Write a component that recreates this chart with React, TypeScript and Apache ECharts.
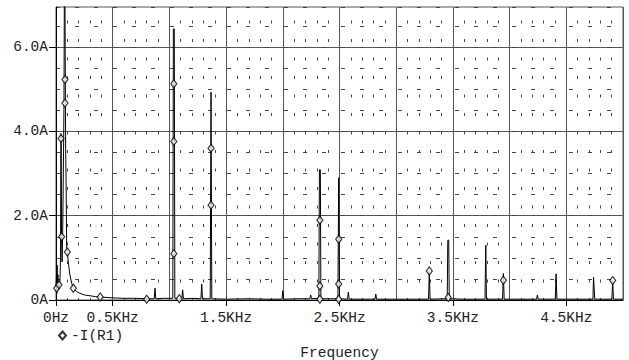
import React, { useEffect, useRef } from "react";
import * as echarts from "echarts";

// Spectrum trace: frequency (KHz) and current magnitude (A)
const lineFreqKHz = [
  0.0, 0.004, 0.007, 0.01, 0.013, 0.017, 0.02, 0.024, 0.028, 0.034,
  0.04, 0.043, 0.046, 0.049, 0.054, 0.06, 0.064, 0.07, 0.076, 0.082,
  0.085, 0.089, 0.094, 0.1, 0.11, 0.123, 0.14, 0.153, 0.18, 0.21,
  0.25, 0.3, 0.35, 0.39, 0.45, 0.5, 0.6, 0.7, 0.8, 0.866,
  0.873, 0.88, 0.95, 1.03, 1.035, 1.043, 1.048, 1.087, 1.11, 1.117,
  1.124, 1.2, 1.278, 1.285, 1.292, 1.36, 1.367, 1.374, 1.5, 1.7,
  1.85, 1.993, 2.0, 2.007, 2.15, 2.239, 2.246, 2.253, 2.318, 2.323,
  2.331, 2.336, 2.42, 2.486, 2.493, 2.5, 2.571, 2.578, 2.585, 2.7,
  2.813, 2.82, 2.827, 3.0, 3.15, 3.285, 3.292, 3.299, 3.45, 3.455,
  3.463, 3.468, 3.6, 3.783, 3.79, 3.796, 3.938, 3.945, 3.952, 4.1,
  4.238, 4.245, 4.252, 4.403, 4.41, 4.417, 4.6, 4.735, 4.74, 4.746,
  4.751, 4.902, 4.909, 4.916, 5.0,
];
const lineCurrentA = [
  0.3, 0.55, 0.15, 0.83, 0.2, 0.6, 0.25, 0.45, 0.3, 0.4,
  1.0, 3.95, 3.9, 1.5, 0.9, 1.8, 2.84, 4.5, 9.0, 9.0,
  3.6, 2.84, 1.26, 1.14, 0.85, 0.59, 0.38, 0.28, 0.2, 0.16,
  0.12, 0.1, 0.08, 0.07, 0.06, 0.05, 0.04, 0.04, 0.03, 0.03,
  0.28, 0.03, 0.04, 0.04, 6.43, 6.43, 0.04, 0.03, 0.03, 0.24,
  0.03, 0.04, 0.03, 0.38, 0.03, 0.03, 4.93, 0.03, 0.02, 0.03,
  0.02, 0.02, 0.22, 0.02, 0.03, 0.03, 0.12, 0.03, 0.04, 3.09,
  3.09, 0.03, 0.03, 0.03, 2.9, 0.03, 0.02, 0.19, 0.02, 0.02,
  0.02, 0.14, 0.02, 0.02, 0.02, 0.02, 0.69, 0.02, 0.03, 1.42,
  1.42, 0.03, 0.02, 0.02, 1.3, 0.02, 0.02, 0.63, 0.02, 0.02,
  0.02, 0.12, 0.02, 0.02, 0.62, 0.02, 0.02, 0.02, 0.54, 0.54,
  0.02, 0.02, 0.46, 0.02, 0.02,
];

// Trace markers (diamonds)
const markerFreqKHz = [
  0.006, 0.026, 0.044, 0.05, 0.079, 0.079, 0.1, 0.153, 0.39, 0.8,
  1.039, 1.039, 1.039, 1.087, 1.367, 1.367, 2.327, 2.327, 2.327, 2.493,
  2.493, 2.493, 3.292, 3.459, 3.945, 4.909,
];
const markerCurrentA = [
  0.28, 0.36, 3.83, 1.5, 5.23, 4.67, 1.14, 0.28, 0.07, 0.02,
  5.13, 3.76, 1.1, 0.03, 3.6, 2.25, 1.89, 0.33, 0.02, 1.44,
  0.38, 0.02, 0.69, 0.06, 0.47, 0.46,
];

const xLabelValues = [0, 0.5, 1.5, 2.5, 3.5, 4.5];
const xLabelTexts = ["0Hz", "0.5KHz", "1.5KHz", "2.5KHz", "3.5KHz", "4.5KHz"];
const yLabelValues = [0, 2, 4, 6];
const yLabelTexts = ["0A", "2.0A", "4.0A", "6.0A"];
const seriesName = "-I(R1)";
const xAxisTitle = "Frequency";

const FONT = "'Liberation Mono', 'DejaVu Sans Mono', monospace";
const FONT_SIZE = 14.5;
const TEXT_COLOR = "#222";

function lookup(values: number[], texts: string[], v: number): string {
  for (let i = 0; i < values.length; i++) {
    if (Math.abs(values[i] - v) < 1e-6) return texts[i];
  }
  return "";
}

export default function App() {
  const ref = useRef<HTMLDivElement>(null);

  useEffect(() => {
    if (!ref.current) return;
    const chart = echarts.init(ref.current, null, { renderer: "svg" });
    const lineData = lineFreqKHz.map((f, i) => [f, lineCurrentA[i]]);
    const markerData = markerFreqKHz.map((f, i) => [f, markerCurrentA[i]]);

    chart.setOption({
      animation: false,
      backgroundColor: "#fff",
      grid: {
        left: 56,
        right: 6,
        top: 7,
        bottom: 60,
        containLabel: false,
        outerBoundsMode: "none",
        show: true,
        borderColor: "#555",
        borderWidth: 1,
      },
      legend: {
        data: [{ name: seriesName, icon: "diamond" }],
        left: 58,
        top: 328,
        padding: 0,
        itemWidth: 7,
        itemHeight: 8,
        textStyle: { fontFamily: FONT, fontSize: FONT_SIZE, color: TEXT_COLOR },
      },
      xAxis: [
        {
          type: "value",
          min: 0,
          max: 5,
          interval: 0.5,
          name: xAxisTitle,
          nameLocation: "middle",
          nameGap: 45,
          nameTextStyle: { fontFamily: FONT, fontSize: FONT_SIZE, color: TEXT_COLOR },
          axisLine: { show: true, onZero: false, lineStyle: { color: "#000", width: 1 } },
          axisTick: { show: false },
          axisLabel: {
            margin: 10,
            fontFamily: FONT,
            fontSize: FONT_SIZE,
            color: TEXT_COLOR,
            formatter: (v: number) => lookup(xLabelValues, xLabelTexts, v),
          },
          splitLine: { show: true, lineStyle: { color: "#555", width: 1 } },
          minorTick: { show: false, splitNumber: 5 },
          minorSplitLine: {
            show: true,
            lineStyle: { color: "#444", width: 1, type: [3, 15.5], dashOffset: 5 },
          },
        },
        {
          type: "value",
          min: 0,
          max: 5,
          position: "bottom",
          axisLine: { show: false },
          splitLine: { show: false },
          axisLabel: { show: false },
          axisTick: {
            show: true,
            customValues: xLabelValues,
            length: 6,
            lineStyle: { color: "#000", width: 1 },
          },
        },
      ],
      yAxis: [
        {
          type: "value",
          min: 0,
          max: 6.95,
          interval: 2,
          axisLine: { show: true, onZero: false, lineStyle: { color: "#000", width: 1 } },
          axisTick: {
            show: true,
            length: 7,
            customValues: yLabelValues,
            lineStyle: { color: "#000", width: 1 },
          },
          axisLabel: {
            margin: 8,
            fontFamily: FONT,
            fontSize: FONT_SIZE,
            color: TEXT_COLOR,
            formatter: (v: number) => lookup(yLabelValues, yLabelTexts, v),
          },
          splitLine: { show: true, lineStyle: { color: "#555", width: 1 } },
        },
        {
          type: "value",
          min: 0,
          max: 6.95,
          interval: 0.5,
          position: "left",
          axisLine: { show: false },
          axisTick: { show: false },
          axisLabel: { show: false },
          splitLine: {
            show: true,
            lineStyle: { color: "#444", width: 1, type: [4, 15] },
          },
        },
      ],
      series: [
        {
          type: "line",
          name: "trace",
          xAxisIndex: 0,
          yAxisIndex: 0,
          data: lineData,
          showSymbol: false,
          symbol: "none",
          clip: true,
          lineStyle: { color: "#000", width: 1 },
          z: 3,
        },
        {
          type: "scatter",
          name: seriesName,
          xAxisIndex: 0,
          yAxisIndex: 0,
          data: markerData,
          symbol: "diamond",
          symbolSize: [6, 8],
          itemStyle: { color: "#fff", borderColor: "#000", borderWidth: 1.2 },
          z: 4,
        },
      ],
    });

    return () => chart.dispose();
  }, []);

  return (
    <div
      ref={ref}
      style={{ position: "fixed", left: 0, top: 0, width: 629, height: 360, background: "#fff" }}
    />
  );
}
